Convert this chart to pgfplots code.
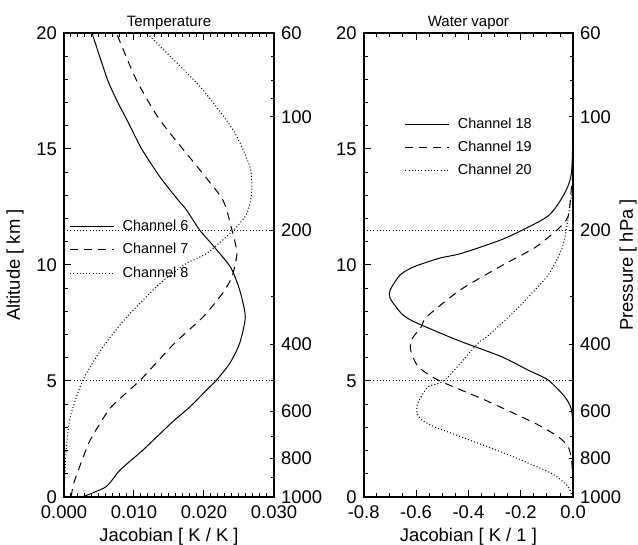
\documentclass[border=0pt]{standalone}
\usepackage{fontspec}
\setmainfont{Liberation Sans}
\usepackage{pgfplots}
\pgfplotsset{compat=1.18}

% Temperature Jacobians: x = K/K, y = altitude [km]
\pgfplotstableread{
x y
0.0026 0
0.0060 0.44
0.0080 1.16
0.0113 2.03
0.0153 3.18
0.0180 3.89
0.0205 4.65
0.0218 5.04
0.0237 5.77
0.0251 6.63
0.0259 7.77
0.0251 8.92
0.0238 9.90
0.0214 10.80
0.0194 11.50
0.0175 12.37
0.0163 12.80
0.0137 13.80
0.0111 15.00
0.0090 16.25
0.0077 17.00
0.0062 18.00
0.0040 20.00
}\chsix
\pgfplotstableread{
x y
0.0010 0
0.0014 0.60
0.0021 1.20
0.0035 2.30
0.0048 3.00
0.0068 3.90
0.0109 5.04
0.0158 6.63
0.0199 7.77
0.0227 8.80
0.0240 9.50
0.0247 10.50
0.0240 11.50
0.0227 12.80
0.0194 14.10
0.0137 16.25
0.0103 18.00
0.0075 20.00
}\chseven
\pgfplotstableread{
x y
0.0000 0
0.0003 2.00
0.0009 3.46
0.0027 5.04
0.0056 6.48
0.0090 7.77
0.0137 9.20
0.0175 10.07
0.0204 10.50
0.0242 11.50
0.0261 12.20
0.0268 13.10
0.0266 14.20
0.0242 15.80
0.0194 17.70
0.0118 20.00
}\cheight
% Water vapour Jacobians: x = K/1, y = altitude [km]
\pgfplotstableread{
x y
0.000 0
0.000 2.60
-0.006 3.75
-0.032 4.32
-0.095 5.04
-0.172 5.47
-0.274 6.05
-0.444 6.77
-0.607 7.55
-0.655 7.90
-0.699 8.56
-0.699 8.92
-0.661 9.57
-0.607 9.93
-0.508 10.30
-0.427 10.50
-0.261 11.15
-0.097 12.10
-0.032 13.10
-0.006 14.00
0.000 16.40
0.000 20.00
}\cheighteen
\pgfplotstableread{
x y
0.000 0
0.000 0.60
-0.006 1.60
-0.019 2.17
-0.057 2.60
-0.146 3.18
-0.337 4.18
-0.516 5.04
-0.592 5.62
-0.620 6.30
-0.618 6.77
-0.580 7.34
-0.559 7.77
-0.432 8.92
-0.279 9.93
-0.185 10.50
-0.139 10.80
-0.062 11.50
-0.019 12.10
-0.006 13.40
0.000 14.50
0.000 20.00
}\chnineteen
\pgfplotstableread{
x y
-0.003 0
-0.019 0.44
-0.083 1.02
-0.261 1.88
-0.465 2.75
-0.535 3.05
-0.578 3.32
-0.596 3.60
-0.594 4.04
-0.554 4.75
-0.490 5.04
-0.363 6.63
-0.330 6.90
-0.215 8.10
-0.100 9.50
-0.057 10.35
-0.040 10.80
-0.028 11.40
-0.013 12.50
0.000 14.00
0.000 20.00
}\chtwenty

\pgfplotsset{
  every axis title shift=0pt,
  panel/.style={
    scale only axis, width=105pt, height=232pt, anchor=south west,
    ymin=0, ymax=20, ytick={0,5,10,15,20}, yticklabels={0,5,10,15,20},
    minor y tick num=4, ytick pos=left, xtick pos=both,
    scaled x ticks=false,
    tick align=inside, major tick length=3.4pt, minor tick length=2pt,
    axis line style={line width=0.8pt}, every tick/.style={black, line width=0.5pt},
    tick label style={font=\fontsize{9.2}{11}\selectfont},
    label style={font=\fontsize{9.2}{11}\selectfont},
    title style={font=\fontsize{7.5}{9}\selectfont, at={(axis description cs:0.5,1.013)}, anchor=base},
    xlabel style={at={(axis description cs:0.5,-0.085)}, anchor=center},
    xticklabel style={yshift=-1pt},
    legend cell align=left,
    legend style={draw=none, fill=none, inner sep=0pt, font=\fontsize{7.2}{9}\selectfont,
      row sep=6.4pt, column sep=4pt,
      nodes={inner sep=0pt, text height=5.2pt, text depth=0pt}},
    legend image code/.code={\draw[#1] (0pt,-0.6pt) -- (22pt,-0.6pt);},
    every axis plot/.append style={line width=0.5pt, black},
  },
  press/.style={
    scale only axis, width=105pt, height=232pt, anchor=south west,
    xmin=0, xmax=1, ymin=0, ymax=20, hide x axis, axis y line*=right,
    tick align=inside, major tick length=2pt, minor tick length=1.6pt,
    axis line style={line width=0.8pt}, every tick/.style={black, line width=0.5pt},
    ytick={0,1.68,3.68,6.59,11.5,16.39,20},
    yticklabels={1000,800,600,400,200,100,60},
    minor ytick={0.86,2.60,5.04,8.63,17.16,17.97,18.98},
    yticklabel style={font=\fontsize{9.2}{11}\selectfont, xshift=0pt},
    label style={font=\fontsize{9.2}{11}\selectfont},
  },
  ldash/.style={dash pattern=on 4pt off 3pt},
  ldot/.style={dash pattern=on 0.5pt off 1.1pt},
  curve/.style={smooth, tension=0.4},
}

\begin{document}
\begin{tikzpicture}
\useasboundingbox (-32pt,-24pt) rectangle (287pt,248.5pt);

\begin{axis}[panel, at={(0pt,0pt)},
  title={Temperature},
  xmin=0, xmax=0.03, xtick={0,0.01,0.02,0.03},
  xticklabels={0.000,0.010,0.020,0.030}, minor x tick num=9,
  xlabel={Jacobian [ K / K ]}, ylabel={Altitude [ km ]},
  ylabel style={at={(axis description cs:-0.233,0.5)}, anchor=center},
  legend style={at={(axis description cs:0.025,0.597)}, anchor=north west},
]
\addplot[forget plot, ldot] coordinates {(0,11.5) (0.03,11.5)};
\addplot[forget plot, ldot] coordinates {(0,5.04) (0.03,5.04)};
\addplot[solid, curve] table {\chsix};
\addlegendentry{Channel 6}
\addplot[ldash, curve] table {\chseven};
\addlegendentry{Channel 7}
\addplot[ldot, curve] table {\cheight};
\addlegendentry{Channel 8}
\end{axis}
\begin{axis}[press, at={(0pt,0pt)}]
\end{axis}

\begin{axis}[panel, at={(149.85pt,0pt)}, width=104.7pt,
  title={Water vapor},
  xmin=-0.8, xmax=0, xtick={-0.8,-0.6,-0.4,-0.2,0},
  xticklabels={-0.8,-0.6,-0.4,-0.2,0.0}, minor x tick num=3,
  xlabel={Jacobian [ K / 1 ]},
  legend style={at={(axis description cs:0.195,0.818)}, anchor=north west},
]
\addplot[forget plot, ldot] coordinates {(-0.8,11.5) (0,11.5)};
\addplot[forget plot, ldot] coordinates {(-0.8,5.04) (0,5.04)};
\addplot[solid, curve] table {\cheighteen};
\addlegendentry{Channel 18}
\addplot[ldash, curve] table {\chnineteen};
\addlegendentry{Channel 19}
\addplot[ldot, curve] table {\chtwenty};
\addlegendentry{Channel 20}
\end{axis}
\begin{axis}[press, at={(149.85pt,0pt)}, width=104.7pt,
  ylabel={Pressure [ hPa ]},
  ylabel style={at={(axis description cs:1.263,0.5)}, anchor=center, rotate=0},
]
\end{axis}
\end{tikzpicture}
\end{document}
